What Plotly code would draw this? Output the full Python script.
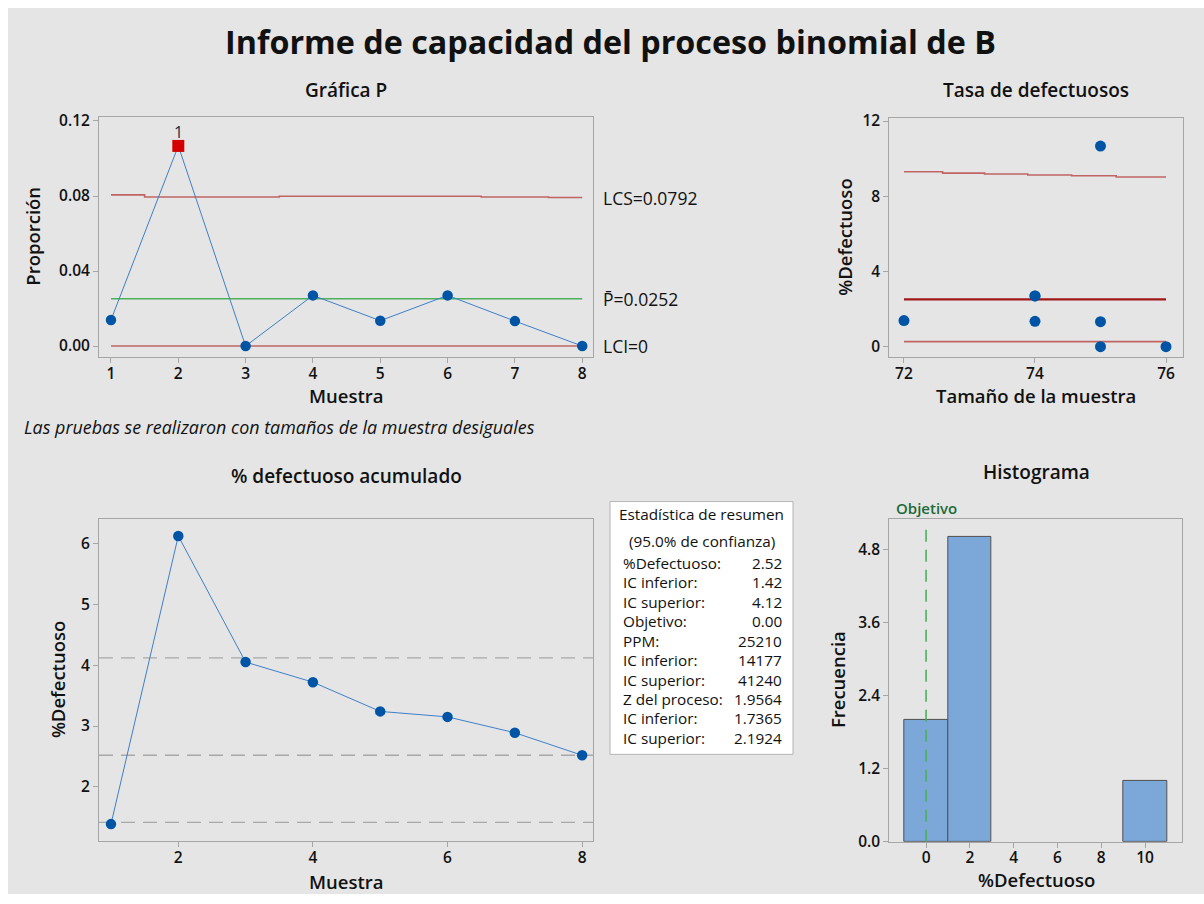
import plotly.graph_objects as go

W, H = 1204, 904

# --- datos ---------------------------------------------------------------
muestra = [1, 2, 3, 4, 5, 6, 7, 8]
tam_muestra = [72, 75, 75, 74, 74, 74, 75, 76]
proporcion = [0.0139, 0.1067, 0.0, 0.0270, 0.0135, 0.0270, 0.0133, 0.0]
lcs = [0.0806, 0.0795, 0.0795, 0.0799, 0.0799, 0.0799, 0.0795, 0.0792]
p_barra = 0.0252
lci = 0.0
fuera_control = [False, True, False, False, False, False, False, False]

pct_acumulado = [1.39, 6.12, 4.05, 3.72, 3.24, 3.15, 2.89, 2.52]
ic_pct = [1.42, 2.52, 4.12]

tasa_lim_x = [72, 72.59, 73.23, 73.89, 74.56, 75.24, 76]
tasa_lim_sup = [9.30, 9.23, 9.18, 9.13, 9.09, 9.02, 9.02]
tasa_lim_inf = 0.27
objetivo = 0.0

resumen_etiquetas = ["%Defectuoso:", "IC inferior:", "IC superior:", "Objetivo:",
                     "PPM:", "IC inferior:", "IC superior:", "Z del proceso:",
                     "IC inferior:", "IC superior:"]
resumen_valores = ["2.52", "1.42", "4.12", "0.00", "25210", "14177", "41240",
                   "1.9564", "1.7365", "2.1924"]

pct_defectuoso = [p * 100 for p in proporcion]

# --- estilo ----------------------------------------------------------------
FONT = "Open Sans"
TXT = "#111111"
AZUL = "#0054a6"
AZUL_LINEA = "#3f7fc8"
ROJO_LIM = "#c06464"
VERDE = "#4cb05c"
GRIS = "#e5e5e5"

# la página se muestra con el lienzo ligeramente comprimido en vertical
ESC_Y, DESP_Y = 0.977, 9.0


def px(x):
    return x / W


def py(y):
    return 1 - ((y - DESP_Y) / ESC_Y) / H


fig = go.Figure()

# Gráfica P
fig.add_trace(go.Scatter(x=muestra, y=lcs, mode="lines", line=dict(color=ROJO_LIM, width=1.6, shape="hvh"),
                         xaxis="x", yaxis="y"))
fig.add_trace(go.Scatter(x=[muestra[0], muestra[-1]], y=[lci, lci], mode="lines",
                         line=dict(color=ROJO_LIM, width=1.6), xaxis="x", yaxis="y"))
fig.add_trace(go.Scatter(x=[muestra[0], muestra[-1]], y=[p_barra, p_barra], mode="lines",
                         line=dict(color=VERDE, width=1.6), xaxis="x", yaxis="y"))
fig.add_trace(go.Scatter(x=muestra, y=proporcion, mode="lines",
                         line=dict(color=AZUL_LINEA, width=1), xaxis="x", yaxis="y"))
ok_x = [m for m, f in zip(muestra, fuera_control) if not f]
ok_y = [p for p, f in zip(proporcion, fuera_control) if not f]
fc_x = [m for m, f in zip(muestra, fuera_control) if f]
fc_y = [p for p, f in zip(proporcion, fuera_control) if f]
fig.add_trace(go.Scatter(x=ok_x, y=ok_y, mode="markers",
                         marker=dict(size=10.5, color=AZUL, line=dict(width=0)),
                         xaxis="x", yaxis="y"))
fig.add_trace(go.Scatter(x=fc_x, y=fc_y, mode="markers",
                         marker=dict(size=12, symbol="square", color="#d40000", line=dict(width=0)),
                         xaxis="x", yaxis="y"))

# Tasa de defectuosos
fig.add_trace(go.Scatter(x=tasa_lim_x, y=tasa_lim_sup, mode="lines",
                         line=dict(color=ROJO_LIM, width=1.6, shape="hv"), xaxis="x2", yaxis="y2"))
fig.add_trace(go.Scatter(x=[tasa_lim_x[0], tasa_lim_x[-1]], y=[tasa_lim_inf] * 2, mode="lines",
                         line=dict(color=ROJO_LIM, width=1.6), xaxis="x2", yaxis="y2"))
fig.add_trace(go.Scatter(x=[tasa_lim_x[0], tasa_lim_x[-1]], y=[p_barra * 100] * 2, mode="lines",
                         line=dict(color="#a01818", width=2.2), xaxis="x2", yaxis="y2"))
fig.add_trace(go.Scatter(x=tam_muestra, y=pct_defectuoso, mode="markers",
                         marker=dict(size=11, color=AZUL, line=dict(width=0)), xaxis="x2", yaxis="y2"))

# % defectuoso acumulado
fig.add_trace(go.Scatter(x=muestra, y=pct_acumulado, mode="lines+markers",
                         line=dict(color=AZUL_LINEA, width=1),
                         marker=dict(size=10.5, color=AZUL, line=dict(width=0)), xaxis="x3", yaxis="y3"))

# Histograma
fig.add_trace(go.Scatter(x=[objetivo, objetivo], y=[0, 5.15], mode="lines",
                         line=dict(color=VERDE, width=1.6, dash="12px,8px"), xaxis="x4", yaxis="y4"))
fig.add_trace(go.Histogram(x=pct_defectuoso, xbins=dict(start=-1, end=11, size=2),
                           marker=dict(color="#7ba7d9", line=dict(color="#505050", width=1)),
                           xaxis="x4", yaxis="y4"))

shapes = [
    dict(type="rect", xref="paper", yref="paper", x0=px(8), x1=1, y0=0, y1=1,
         fillcolor=GRIS, line=dict(width=0), layer="below"),
]
for v in ic_pct:
    shapes.append(dict(type="line", xref="x3 domain", yref="y3", x0=0, x1=1, y0=v, y1=v,
                       line=dict(color="#a8a8a8", width=1.3, dash="14px,8px"), layer="below"))
# recuadro de estadística de resumen
shapes.append(dict(type="rect", xref="paper", yref="paper", x0=px(610), x1=px(793),
                   y0=py(753), y1=py(501), fillcolor="white", line=dict(color="#b5b5b5", width=1)))

ann = []


def texto(x, y, t, size=15, weight=400, xanchor="center", color=TXT, angle=0, italic=False,
          xref="paper", yref="paper"):
    ann.append(dict(x=x, y=y, xref=xref, yref=yref, text=t, showarrow=False, xanchor=xanchor,
                    yanchor="middle", textangle=angle,
                    font=dict(family=FONT, size=size, color=color, weight=weight,
                              style="italic" if italic else "normal")))


texto(px(610), py(42), "Informe de capacidad del proceso binomial de B", size=32.3, weight=700)
texto(px(346), py(91), "Gráfica P", size=19, weight=600)
texto(px(1036), py(91), "Tasa de defectuosos", size=19, weight=600)
texto(px(346), py(476), "% defectuoso acumulado", size=19, weight=600)
texto(px(1036), py(472), "Histograma", size=19, weight=600)

texto(px(33), py(237), "Proporción", size=18.5, weight=600, angle=-90)
texto(px(346), py(395), "Muestra", size=18.5, weight=600)
texto(px(845), py(238), "%Defectuoso", size=18.5, weight=600, angle=-90)
texto(px(1036), py(395), "Tamaño de la muestra", size=18.5, weight=600)
texto(px(57), py(679), "%Defectuoso", size=18.5, weight=600, angle=-90)
texto(px(346), py(880), "Muestra", size=18.5, weight=600)
texto(px(837), py(679), "Frecuencia", size=18.5, weight=600, angle=-90)
texto(px(1036), py(878), "%Defectuoso", size=18.5, weight=600)

texto(px(22), py(427), "Las pruebas se realizaron con tamaños de la muestra desiguales",
      size=17.9, xanchor="left", italic=True)

texto(px(601), lcs[-1], f"LCS={lcs[-1]:.4f}", size=17.5, xanchor="left", yref="y")
texto(px(601), p_barra, f"P\u0304={p_barra:.4f}", size=17.5, xanchor="left", yref="y")
texto(px(601), lci, "LCI=0", size=17.5, xanchor="left", yref="y")
for m, p, f in zip(muestra, proporcion, fuera_control):
    if f:
        ann.append(dict(x=m, y=p, xref="x", yref="y", text="1", showarrow=False, yshift=14,
                        font=dict(family=FONT, size=16, color="#1c2c4c")))

ann.append(dict(x=objetivo, y=py(507), xref="x4", yref="paper", text="Objetivo", showarrow=False,
                font=dict(family=FONT, size=15, color="#1d6a35", weight=600)))

texto(px(701.5), py(513), "Estadística de resumen", size=15.3)
texto(px(701.5), py(540), "(95.0% de confianza)", size=15.3)
for i, (et, va) in enumerate(zip(resumen_etiquetas, resumen_valores)):
    yy = py(562 + i * 19.4)
    texto(px(621), yy, et, size=15.3, xanchor="left")
    texto(px(784), yy, va, size=15.3, xanchor="right")

eje = dict(showline=True, mirror=True, linecolor="#a6a6a6", linewidth=1, showgrid=False,
           zeroline=False, ticks="outside", ticklen=5, tickcolor="#a6a6a6",
           tickfont=dict(family=FONT, size=15.5, color=TXT, weight=600))
eje_x = dict(eje, ticklabelstandoff=-3)

fig.update_layout(
    width=W, height=H, autosize=False, showlegend=False,
    margin=dict(l=0, r=0, t=0, b=0),
    paper_bgcolor="white", plot_bgcolor="white",
    bargap=0,
    shapes=shapes, annotations=ann,
    xaxis=dict(eje_x, domain=[px(99), px(593)], range=[0.822, 8.16], tickvals=muestra, anchor="y"),
    yaxis=dict(eje, domain=[py(357), py(117.7)], range=[-0.0059, 0.1221],
               tickvals=[0, 0.04, 0.08, 0.12], tickformat=".2f", anchor="x"),
    xaxis2=dict(eje_x, domain=[px(889.3), px(1182.7)], range=[71.776, 76.255],
                tickvals=[72, 74, 76], anchor="y2"),
    yaxis2=dict(eje, domain=[py(357.3), py(118.3)], range=[-0.57, 12.18],
                tickvals=[0, 4, 8, 12], anchor="x2"),
    xaxis3=dict(eje_x, domain=[px(99), px(593.3)], range=[0.822, 8.166],
                tickvals=[2, 4, 6, 8], anchor="y3"),
    yaxis3=dict(eje, domain=[py(839.3), py(518.3)], range=[1.114, 6.40],
                tickvals=[2, 3, 4, 5, 6], anchor="x3"),
    xaxis4=dict(eje_x, domain=[px(889.3), px(1182)], range=[-1.68, 11.69],
                tickvals=[0, 2, 4, 6, 8, 10], anchor="y4"),
    yaxis4=dict(eje, domain=[py(840), py(518.3)], range=[0, 5.30],
                tickvals=[0, 1.2, 2.4, 3.6, 4.8], tickformat=".1f", anchor="x4"),
)

fig.write_html("out.html")
